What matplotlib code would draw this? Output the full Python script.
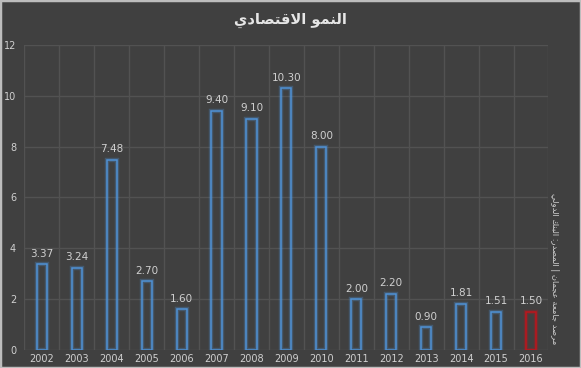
import matplotlib
matplotlib.use('Agg')
import matplotlib.pyplot as plt
import matplotlib.patheffects as pe
from matplotlib.patches import Rectangle

years = ['2002', '2003', '2004', '2005', '2006', '2007', '2008', '2009',
         '2010', '2011', '2012', '2013', '2014', '2015', '2016']
growth = [3.37, 3.24, 7.48, 2.70, 1.60, 9.40, 9.10, 10.30,
          8.00, 2.00, 2.20, 0.90, 1.81, 1.51, 1.50]
title = 'النمو الاقتصادي'
source = 'مرصد جامعة عجمان | المصدر: البنك الدولي'

# minimal arabic shaping: letter -> (isolated, final, initial, medial)
FORMS = {
    'ء': (0xFE80, None, None, None), 'آ': (0xFE81, 0xFE82, None, None),
    'أ': (0xFE83, 0xFE84, None, None), 'ؤ': (0xFE85, 0xFE86, None, None),
    'إ': (0xFE87, 0xFE88, None, None), 'ئ': (0xFE89, 0xFE8A, 0xFE8B, 0xFE8C),
    'ا': (0xFE8D, 0xFE8E, None, None), 'ب': (0xFE8F, 0xFE90, 0xFE91, 0xFE92),
    'ة': (0xFE93, 0xFE94, None, None), 'ت': (0xFE95, 0xFE96, 0xFE97, 0xFE98),
    'ث': (0xFE99, 0xFE9A, 0xFE9B, 0xFE9C), 'ج': (0xFE9D, 0xFE9E, 0xFE9F, 0xFEA0),
    'ح': (0xFEA1, 0xFEA2, 0xFEA3, 0xFEA4), 'خ': (0xFEA5, 0xFEA6, 0xFEA7, 0xFEA8),
    'د': (0xFEA9, 0xFEAA, None, None), 'ذ': (0xFEAB, 0xFEAC, None, None),
    'ر': (0xFEAD, 0xFEAE, None, None), 'ز': (0xFEAF, 0xFEB0, None, None),
    'س': (0xFEB1, 0xFEB2, 0xFEB3, 0xFEB4), 'ش': (0xFEB5, 0xFEB6, 0xFEB7, 0xFEB8),
    'ص': (0xFEB9, 0xFEBA, 0xFEBB, 0xFEBC), 'ض': (0xFEBD, 0xFEBE, 0xFEBF, 0xFEC0),
    'ط': (0xFEC1, 0xFEC2, 0xFEC3, 0xFEC4), 'ظ': (0xFEC5, 0xFEC6, 0xFEC7, 0xFEC8),
    'ع': (0xFEC9, 0xFECA, 0xFECB, 0xFECC), 'غ': (0xFECD, 0xFECE, 0xFECF, 0xFED0),
    'ف': (0xFED1, 0xFED2, 0xFED3, 0xFED4), 'ق': (0xFED5, 0xFED6, 0xFED7, 0xFED8),
    'ك': (0xFED9, 0xFEDA, 0xFEDB, 0xFEDC), 'ل': (0xFEDD, 0xFEDE, 0xFEDF, 0xFEE0),
    'م': (0xFEE1, 0xFEE2, 0xFEE3, 0xFEE4), 'ن': (0xFEE5, 0xFEE6, 0xFEE7, 0xFEE8),
    'ه': (0xFEE9, 0xFEEA, 0xFEEB, 0xFEEC), 'و': (0xFEED, 0xFEEE, None, None),
    'ى': (0xFEEF, 0xFEF0, None, None), 'ي': (0xFEF1, 0xFEF2, 0xFEF3, 0xFEF4),
}
LAM_ALEF = {'ا': (0xFEFB, 0xFEFC), 'أ': (0xFEF7, 0xFEF8),
            'إ': (0xFEF9, 0xFEFA), 'آ': (0xFEF5, 0xFEF6)}


def dual(c):
    return c in FORMS and FORMS[c][2] is not None


def shape(text):
    out = []
    i = 0
    n = len(text)
    while i < n:
        c = text[i]
        if c not in FORMS:
            out.append(c)
            i += 1
            continue
        prev = text[i - 1] if i > 0 else ''
        join_prev = dual(prev)
        if c == 'ل' and i + 1 < n and text[i + 1] in LAM_ALEF:
            iso, fin = LAM_ALEF[text[i + 1]]
            out.append(chr(fin if join_prev else iso))
            i += 2
            continue
        nxt = text[i + 1] if i + 1 < n else ''
        join_next = dual(c) and nxt in FORMS
        iso, fin, ini, med = FORMS[c]
        if join_prev and join_next:
            f = med
        elif join_prev:
            f = fin
        elif join_next:
            f = ini
        else:
            f = iso
        out.append(chr(f))
        i += 1
    # visual order for a pure arabic line
    return ''.join(out)[::-1]


bg = '#404040'
grid_c = '#525252'
text_c = '#d0d0d0'
blue = '#4f92d6'
red = '#c0141c'

fig = plt.figure(figsize=(5.81, 3.68), dpi=100, facecolor=bg)
ax = fig.add_axes([0.042, 0.049, 0.902, 0.829], facecolor=bg)

x = list(range(len(years)))
colors = [blue] * (len(years) - 1) + [red]
bars = ax.bar(x, growth, width=0.29, color='none', edgecolor=colors, linewidth=1.1, zorder=3)
for b, c in zip(bars, colors):
    b.set_path_effects([pe.Stroke(linewidth=3.2, foreground=c, alpha=0.3), pe.Normal()])

for xi, v in zip(x, growth):
    ax.annotate('%.2f' % v, (xi, v), xytext=(0, 4), textcoords='offset points',
                ha='center', va='bottom', fontsize=7.5, color=text_c)

ax.set_xlim(-0.5, len(years) - 0.5)
ax.set_ylim(0, 12)
ax.set_yticks(range(0, 13, 2))
ax.set_xticks(x)
ax.set_xticklabels(years)
ax.set_xticks([i + 0.5 for i in range(-1, len(years))], minor=True)
ax.grid(axis='y', color=grid_c, linewidth=1, zorder=0)
ax.grid(axis='x', which='minor', color=grid_c, linewidth=1, zorder=0)
ax.tick_params(axis='both', which='both', length=0, colors=text_c, labelsize=7)
ax.tick_params(axis='x', pad=3)
ax.tick_params(axis='y', pad=6)
for s in ax.spines.values():
    s.set_visible(False)

fig.text(0.5, 0.945, shape(title), ha='center', va='center', fontsize=10.5,
         fontweight='bold', color='#e6e6e6', family='DejaVu Sans')
fig.text(0.955, 0.27, shape(source), ha='center', va='center', rotation=-90,
         fontsize=6, color='#cfcfcf', family='DejaVu Sans')

fig.patches.append(Rectangle((0, 0), 1, 1, transform=fig.transFigure, fill=False,
                             edgecolor='#bdbdbd', linewidth=2.5))

fig.savefig('out.png', dpi=100, facecolor=bg)
